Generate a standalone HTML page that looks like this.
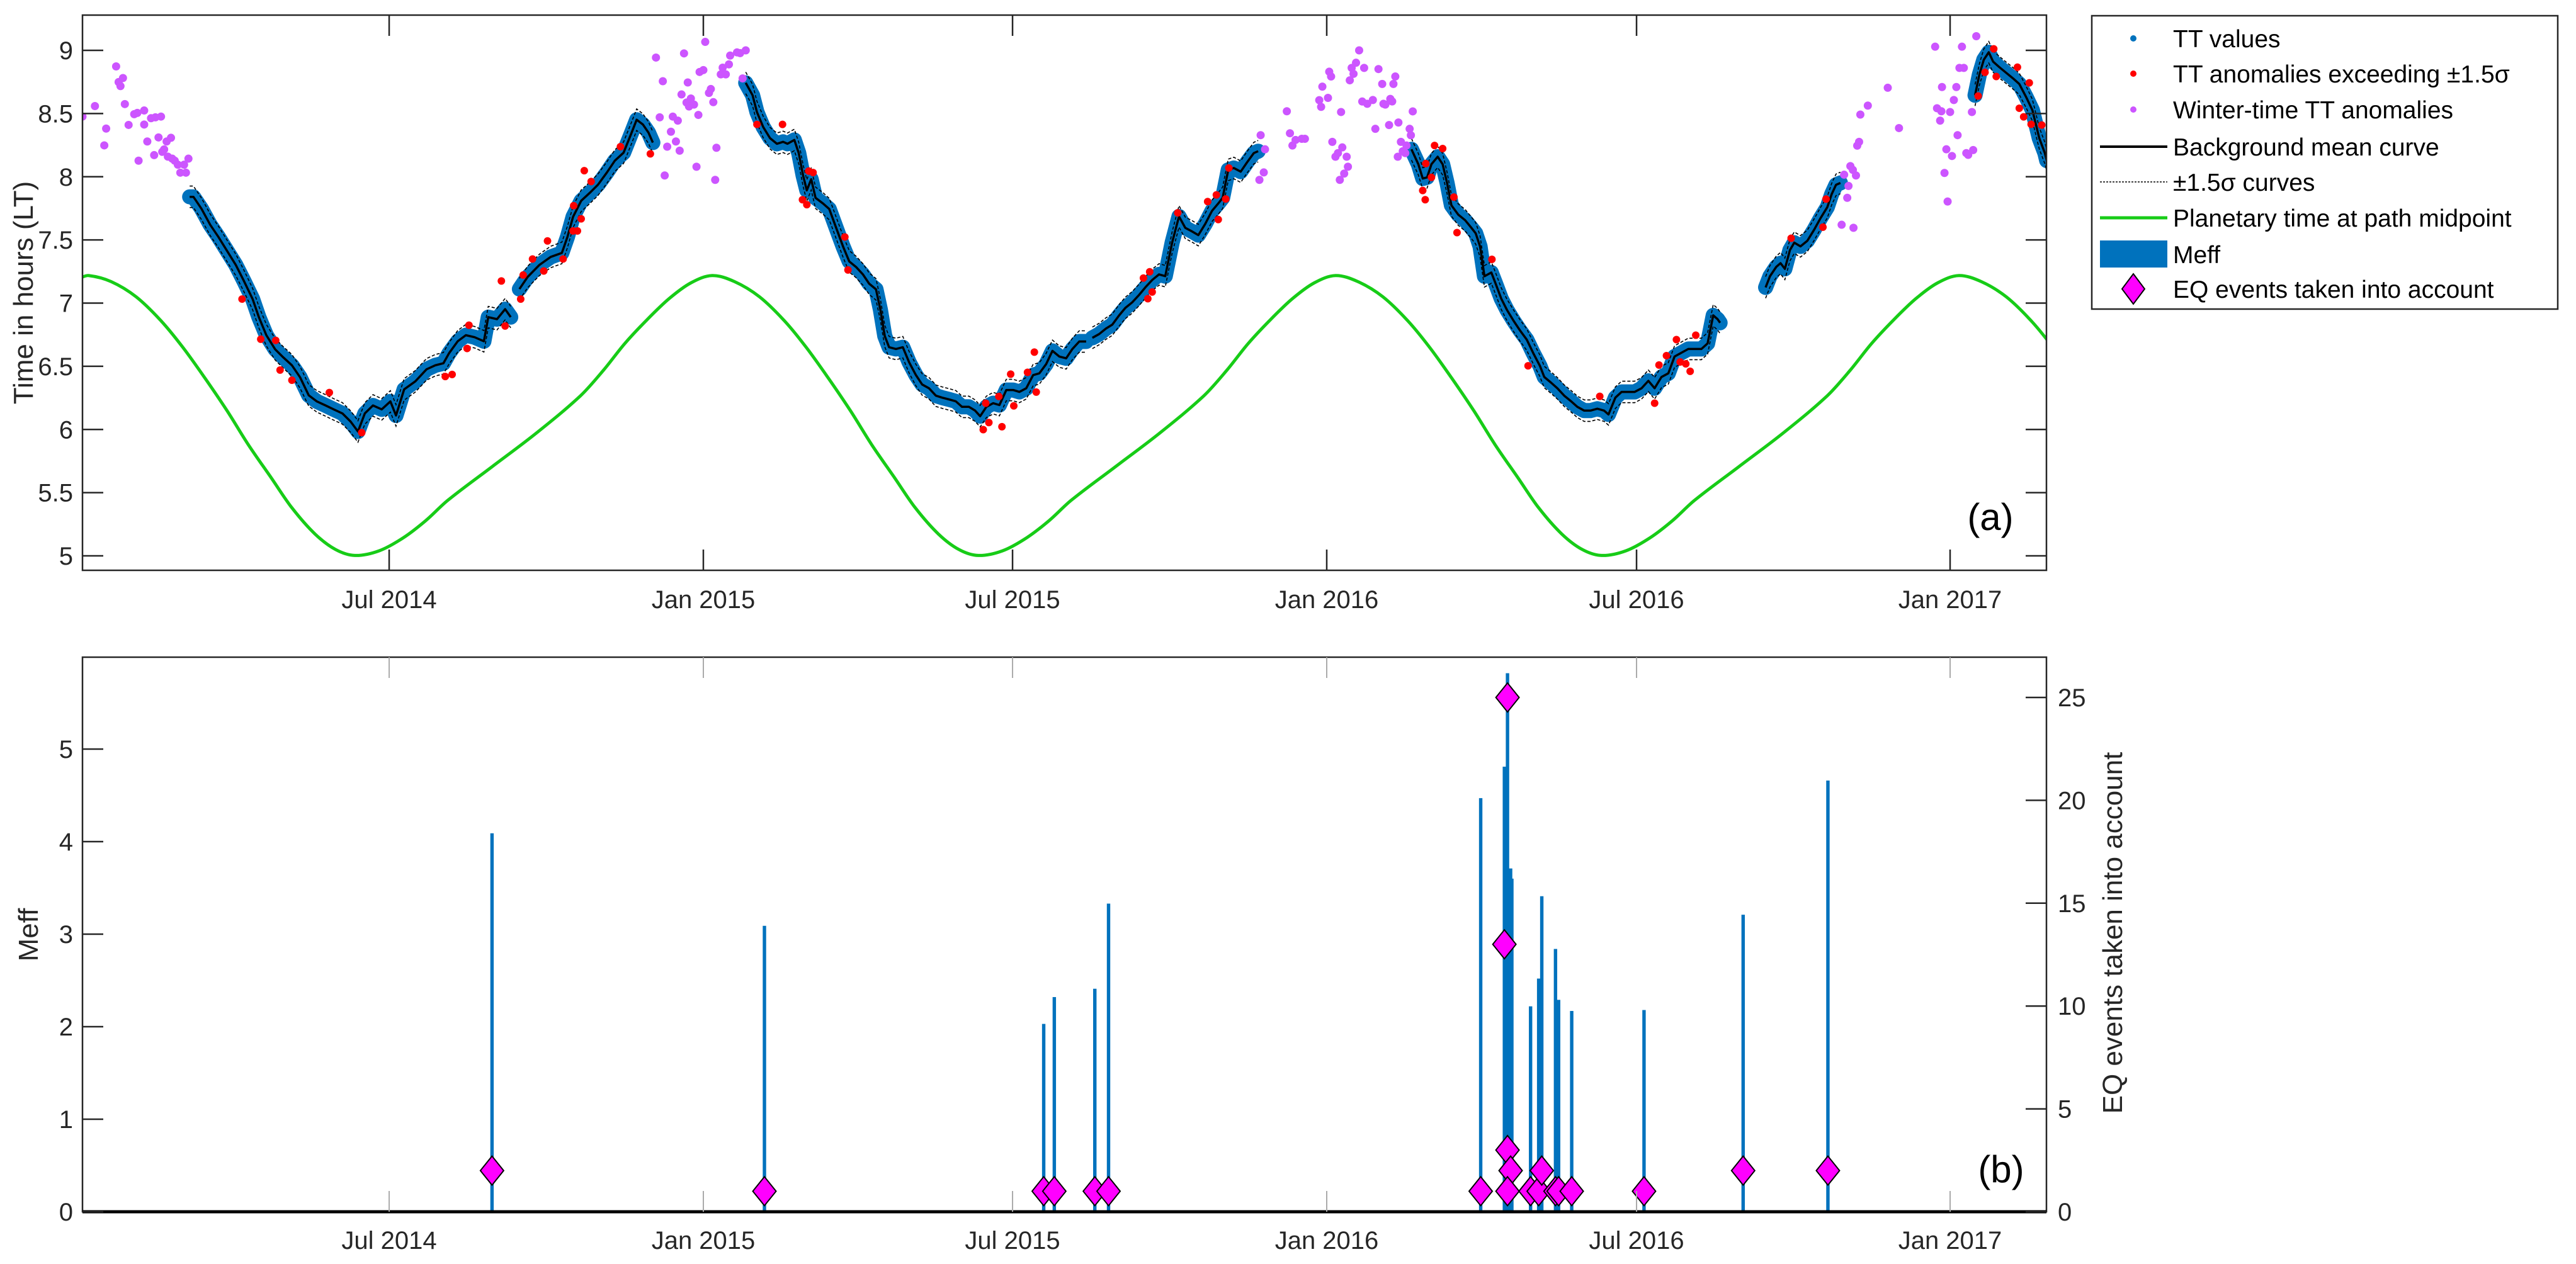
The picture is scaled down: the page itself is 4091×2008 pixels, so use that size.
<!DOCTYPE html>
<html><head><meta charset="utf-8">
<style>
html,body{margin:0;padding:0;background:#fff;}
svg{display:block;font-family:"Liberation Sans",Arial,sans-serif;}
</style></head>
<body>
<svg id="fig" xmlns="http://www.w3.org/2000/svg" width="4091" height="2008" viewBox="0 0 4091 2008">
<rect x="0" y="0" width="4091" height="2008" fill="#fff"/>
<defs>
<clipPath id="clipTop"><rect x="131" y="24" width="3119" height="882"/></clipPath>
<clipPath id="clipBot"><rect x="131" y="1044" width="3119" height="881"/></clipPath>
</defs>
<g id="topPanel"></g>
<g id="botPanel"></g>
<g id="legendG"></g>
</svg>
<script>
// ===== data: x values are decimal years =====
const xTickYears = [2014.496, 2015.0, 2015.496, 2016.0, 2016.497, 2017.0];
const xTickLabels = ["Jul 2014","Jan 2015","Jul 2015","Jan 2016","Jul 2016","Jan 2017"];
const topYTicks = [5,5.5,6,6.5,7,7.5,8,8.5,9];
const topYLabels = ["5","5.5","6","6.5","7","7.5","8","8.5","9"];
const meffTicks = [0,1,2,3,4,5];
const eqTicks = [0,5,10,15,20,25];
const sigmaBand = 0.085;

const seg1aY=[2014.176,2014.182,2014.195,2014.209,2014.222,2014.236,2014.250,2014.263,2014.277,2014.287,2014.299,2014.313,2014.326,2014.340,2014.353,2014.367,2014.380,2014.394,2014.407,2014.421,2014.434,2014.446,2014.457,2014.470,2014.484,2014.498,2014.507,2014.520,2014.538,2014.556,2014.570,2014.583,2014.592,2014.606,2014.619,2014.633,2014.648,2014.655,2014.669,2014.682,2014.691];
const seg1aV=[7.841,7.841,7.746,7.619,7.524,7.413,7.302,7.175,7.032,6.889,6.746,6.635,6.571,6.508,6.413,6.270,6.222,6.190,6.159,6.127,6.063,5.984,6.127,6.190,6.159,6.222,6.111,6.317,6.381,6.476,6.508,6.524,6.603,6.698,6.746,6.730,6.698,6.889,6.873,6.952,6.889];
const seg1bY=[2014.705,2014.718,2014.737,2014.755,2014.773,2014.782,2014.791,2014.804,2014.818,2014.831,2014.845,2014.858,2014.872,2014.885,2014.893,2014.903,2014.912,2014.919];
const seg1bV=[7.111,7.206,7.302,7.365,7.397,7.524,7.683,7.810,7.873,7.937,8.032,8.127,8.190,8.349,8.451,8.413,8.349,8.270];
const seg2aY=[2015.068,2015.079,2015.086,2015.096,2015.107,2015.118,2015.128,2015.135,2015.146,2015.153,2015.160,2015.166,2015.173,2015.180,2015.192,2015.202,2015.213,2015.224,2015.234,2015.245,2015.256,2015.266,2015.277,2015.284,2015.291,2015.298,2015.309,2015.320,2015.330,2015.341,2015.351,2015.362,2015.373,2015.383,2015.394,2015.405,2015.415,2015.426,2015.436,2015.444,2015.454,2015.465,2015.475,2015.486,2015.497,2015.507,2015.518,2015.529,2015.539,2015.550,2015.560,2015.571,2015.582,2015.592,2015.603,2015.614];
const seg2aV=[8.743,8.645,8.512,8.394,8.305,8.261,8.276,8.261,8.291,8.187,8.010,7.892,7.980,7.833,7.788,7.744,7.596,7.449,7.330,7.286,7.227,7.154,7.109,6.947,6.740,6.651,6.637,6.651,6.533,6.430,6.356,6.326,6.267,6.252,6.238,6.223,6.179,6.179,6.149,6.105,6.179,6.208,6.193,6.312,6.312,6.297,6.326,6.430,6.444,6.518,6.622,6.577,6.563,6.637,6.696,6.696];
const seg2bY=[2015.624,2015.635,2015.646,2015.656,2015.667,2015.677,2015.688,2015.699,2015.709,2015.720,2015.731,2015.741,2015.752,2015.763,2015.773,2015.784,2015.794,2015.805,2015.816,2015.826,2015.833,2015.842,2015.851,2015.862,2015.872,2015.883,2015.890];
const seg2bV=[6.725,6.755,6.799,6.829,6.903,6.962,7.006,7.065,7.124,7.183,7.227,7.213,7.479,7.686,7.596,7.567,7.538,7.626,7.730,7.788,7.833,8.054,8.069,8.040,8.113,8.187,8.202];
const seg3Y=[2016.136,2016.147,2016.154,2016.161,2016.168,2016.178,2016.186,2016.193,2016.200,2016.211,2016.222,2016.232,2016.239,2016.246,2016.253,2016.264,2016.271,2016.280,2016.289,2016.300,2016.310,2016.321,2016.331,2016.342,2016.349,2016.360,2016.370,2016.381,2016.392,2016.402,2016.413,2016.423,2016.434,2016.445,2016.452,2016.463,2016.473,2016.484,2016.494,2016.505,2016.516,2016.526,2016.537,2016.548,2016.558,2016.569,2016.580,2016.590,2016.601,2016.611,2016.620,2016.627,2016.631];
const seg3V=[8.217,8.099,7.986,7.995,8.099,8.158,8.099,7.951,7.774,7.700,7.656,7.596,7.552,7.449,7.212,7.242,7.153,7.035,6.947,6.858,6.784,6.710,6.607,6.503,6.415,6.370,6.326,6.267,6.223,6.179,6.149,6.149,6.164,6.149,6.119,6.252,6.297,6.297,6.297,6.326,6.385,6.326,6.415,6.444,6.577,6.607,6.637,6.637,6.637,6.681,6.903,6.873,6.844];
const seg4Y=[2016.704,2016.711,2016.721,2016.728,2016.735,2016.743,2016.750,2016.760,2016.771,2016.782,2016.792,2016.803,2016.810,2016.817,2016.824];
const seg4V=[7.124,7.212,7.286,7.316,7.271,7.419,7.478,7.449,7.493,7.582,7.671,7.759,7.862,7.936,7.951];
const seg5Y=[2017.040,2017.047,2017.054,2017.062,2017.069,2017.079,2017.090,2017.101,2017.111,2017.122,2017.132,2017.143,2017.152,2017.155];
const seg5V=[8.645,8.808,8.926,8.985,8.911,8.867,8.822,8.778,8.734,8.630,8.527,8.305,8.187,8.128];

const redYears=[2014.260,2014.290,2014.314,2014.321,2014.340,2014.400,2014.452,2014.586,2014.597,2014.624,2014.621,2014.676,2014.682,2014.707,2014.711,2014.726,2014.744,2014.750,2014.775,2014.791,2014.798,2014.804,2014.792,2014.809,2014.820,2014.867,2014.915,
2015.086,2015.127,2015.159,2015.166,2015.169,2015.176,2015.227,2015.232,2015.449,2015.458,2015.479,2015.453,2015.474,2015.493,2015.498,2015.520,2015.531,2015.534,2015.706,2015.713,2015.720,2015.716,2015.761,2015.809,2015.823,2015.826,2015.838,2015.843,
2016.159,2016.154,2016.158,2016.168,2016.173,2016.186,2016.204,2016.209,2016.265,2016.323,2016.438,2016.526,2016.533,2016.545,2016.561,2016.567,2016.576,2016.583,2016.592,2016.745,2016.796,2016.801,2017.045,2017.056,2017.070,2017.074,2017.108,2017.127,2017.111,2017.118,2017.130,2017.147];
const redVals=[7.032,6.714,6.705,6.470,6.390,6.292,5.975,6.419,6.435,6.825,6.641,7.175,6.819,7.032,7.222,7.349,7.254,7.492,7.349,7.571,7.571,7.667,7.771,8.048,7.962,8.238,8.181,
8.414,8.414,7.818,7.779,8.045,8.033,7.523,7.262,5.999,6.055,6.022,6.208,6.261,6.438,6.187,6.452,6.612,6.296,7.198,7.035,7.088,7.248,7.714,7.803,7.856,7.661,7.824,8.069,
8.104,7.891,7.818,7.995,8.247,8.223,7.839,7.558,7.346,6.504,6.262,6.208,6.510,6.584,6.711,6.534,6.519,6.460,6.746,7.513,7.601,7.823,8.639,8.826,9.012,8.793,8.867,8.743,8.542,8.474,8.415,8.409];

const winterYears=[2014.004,2014.024,2014.039,2014.042,2014.058,2014.062,2014.065,2014.069,2014.072,2014.078,2014.087,2014.092,2014.094,2014.103,2014.103,2014.108,2014.114,2014.119,2014.121,2014.126,2014.130,2014.132,2014.135,2014.139,2014.141,2014.146,2014.148,2014.152,2014.157,2014.161,2014.167,2014.170,2014.174,
2014.924,2014.930,2014.935,2014.938,2014.942,2014.948,2014.951,2014.956,2014.959,2014.962,2014.965,2014.969,2014.973,2014.975,2014.977,2014.980,2014.985,2014.989,2014.992,2014.994,2015.000,2015.003,2015.009,2015.012,2015.016,2015.019,2015.021,2015.028,2015.031,2015.036,2015.041,2015.043,2015.054,2015.059,2015.063,2015.068,
2015.894,2015.901,2015.899,2015.892,2015.936,2015.941,2015.945,2015.950,2015.960,2015.965,2015.988,2015.991,2015.993,2016.002,2016.004,2016.007,2016.009,2016.014,2016.018,2016.021,2016.023,2016.025,2016.028,2016.032,2016.034,2016.037,2016.040,2016.043,2016.047,2016.052,2016.057,2016.060,2016.065,2016.074,2016.078,2016.083,2016.089,2016.091,
2016.094,2016.100,2016.102,2016.105,2016.107,2016.110,2016.115,2016.119,2016.122,2016.126,2016.128,2016.114,2016.133,2016.135,2016.138,
2016.830,2016.835,2016.837,2016.840,2016.844,2016.849,2016.826,2016.845,2016.851,2016.854,2016.856,2016.868,2016.900,2016.918,2016.976,2016.979,2016.984,2016.986,2016.987,2016.991,2016.994,2016.996,2017.000,2017.003,2017.006,2017.010,2017.012,2017.015,2017.019,2017.022,2017.026,2017.029,2017.035,2017.037,2017.042];
const winterVals=[8.476,8.559,8.248,8.381,8.873,8.749,8.717,8.781,8.575,8.410,8.495,8.505,8.127,8.524,8.413,8.279,8.463,8.171,8.470,8.311,8.476,8.197,8.216,8.279,8.159,8.308,8.143,8.127,8.095,8.032,8.095,8.032,8.143,
8.943,8.470,8.756,8.010,8.238,8.356,8.476,8.279,8.444,8.206,8.651,8.976,8.587,8.746,8.556,8.619,8.571,8.079,8.489,8.829,8.844,9.067,8.663,8.694,8.590,7.975,8.229,8.810,8.863,8.810,8.889,8.959,8.984,8.978,8.778,9.000,
8.329,8.217,8.034,7.975,8.518,8.344,8.247,8.291,8.300,8.300,8.606,8.553,8.713,8.624,8.831,8.793,8.276,8.158,8.187,7.975,8.512,8.232,8.025,8.158,8.079,8.763,8.861,8.814,8.902,9.000,8.595,8.861,8.577,8.607,8.379,8.852,8.734,8.577,
8.571,8.409,8.616,8.596,8.734,8.793,8.429,8.276,8.202,8.187,8.247,8.158,8.379,8.328,8.517,
8.016,7.833,7.927,8.084,8.054,8.010,7.620,7.596,8.246,8.276,8.492,8.563,8.704,8.385,9.029,8.542,8.444,8.518,8.710,8.030,8.217,7.804,8.512,8.164,8.607,8.710,8.329,8.861,9.029,8.861,8.187,8.173,8.512,8.211,9.112];

const greenYears=[2014.000,2014.014,2014.050,2014.090,2014.130,2014.165,2014.200,2014.236,2014.270,2014.307,2014.340,2014.377,2014.410,2014.441,2014.480,2014.519,2014.555,2014.590,2014.661,2014.732,2014.803,2014.840,2014.874,2014.910,2014.945,2014.980,
2015.014,2015.050,2015.090,2015.130,2015.165,2015.200,2015.236,2015.270,2015.307,2015.340,2015.377,2015.410,2015.441,2015.480,2015.519,2015.555,2015.590,2015.661,2015.732,2015.803,2015.840,2015.874,2015.910,2015.945,2015.980,
2016.014,2016.050,2016.090,2016.130,2016.165,2016.200,2016.236,2016.270,2016.307,2016.340,2016.377,2016.410,2016.441,2016.480,2016.519,2016.555,2016.590,2016.661,2016.732,2016.803,2016.840,2016.874,2016.910,2016.945,2016.980,
2017.014,2017.050,2017.090,2017.130,2017.165,2017.200];
const greenVals=[7.20,7.218,7.17,7.05,6.86,6.65,6.41,6.148,5.88,5.616,5.38,5.173,5.05,5.003,5.04,5.144,5.28,5.439,5.705,5.971,6.267,6.47,6.68,6.87,7.035,7.16,
7.218,7.17,7.05,6.86,6.65,6.41,6.148,5.88,5.616,5.38,5.173,5.05,5.003,5.04,5.144,5.28,5.439,5.705,5.971,6.267,6.47,6.68,6.87,7.035,7.16,
7.218,7.17,7.05,6.86,6.65,6.41,6.148,5.88,5.616,5.38,5.173,5.05,5.003,5.04,5.144,5.28,5.439,5.705,5.971,6.267,6.47,6.68,6.87,7.035,7.16,
7.218,7.17,7.05,6.86,6.65,6.41];

const meffYears=[2014.661,2015.098,2015.546,2015.563,2015.628,2015.650,2016.247,2016.285,2016.290,2016.293,2016.295,2016.297,2016.327,2016.340,2016.345,2016.343,2016.367,2016.372,2016.393,2016.509,2016.668,2016.804];
const meffVals=[4.09,3.09,2.03,2.32,2.41,3.33,4.47,4.81,5.82,3.49,3.71,3.60,2.22,2.52,3.41,2.00,2.84,2.29,2.17,2.18,3.21,4.66];
const eqYears=[2014.661,2015.098,2015.546,2015.563,2015.628,2015.650,2016.247,2016.285,2016.290,2016.290,2016.295,2016.290,2016.327,2016.340,2016.345,2016.367,2016.372,2016.393,2016.509,2016.668,2016.804];
const eqCounts=[2,1,1,1,1,1,1,13,25,3,2,1,1,1,2,1,1,1,1,2,2];

// ===== scales =====
const NS="http://www.w3.org/2000/svg";
const X = t => 1117 + (t - 2015) * 990;
const YT = v => 80 + (9 - v) * 200.75;
const YB = m => 1925 - m * 147;
const YR = n => 1925 - n * 32.68;
function el(tag, attrs, parent){const e=document.createElementNS(NS,tag);for(const k in attrs)e.setAttribute(k,attrs[k]);parent.appendChild(e);return e;}
function txt(s, attrs, parent){const e=el('text',attrs,parent);e.textContent=s;return e;}
const topG=document.getElementById('topPanel'), botG=document.getElementById('botPanel'), legG=document.getElementById('legendG');
const AX='#262626';

// ===== top panel =====
const tData=el('g',{'clip-path':'url(#clipTop)'},topG);
function hermitePath(xs,ys){
  const n=xs.length, m=[];
  for(let i=0;i<n;i++){
    const a=Math.max(i-1,0), b=Math.min(i+1,n-1);
    m.push((ys[b]-ys[a])/(xs[b]-xs[a]));
  }
  let p=`M${xs[0]},${ys[0]}`;
  for(let i=0;i<n-1;i++){
    const dx=xs[i+1]-xs[i];
    p+=` C${xs[i]+dx/3},${ys[i]+m[i]*dx/3} ${xs[i+1]-dx/3},${ys[i+1]-m[i+1]*dx/3} ${xs[i+1]},${ys[i+1]}`;
  }
  return p;
}
const gp=el('path',{d:hermitePath(greenYears.map(X),greenVals.map(YT)),fill:'none',stroke:'#17CC17','stroke-width':5},tData);



const segs=[[seg1aY,seg1aV],[seg1bY,seg1bV],[seg2aY,seg2aV],[seg2bY,seg2bV],[seg3Y,seg3V],[seg4Y,seg4V],[seg5Y,seg5V]];
const pts=(ys,vs,off)=>ys.map((t,i)=>`${X(t).toFixed(1)},${YT(vs[i]+off).toFixed(1)}`).join(' ');
segs.forEach(([ys,vs])=>{
  const band=el('polyline',{points:pts(ys,vs,0),fill:'none',stroke:'#0072BD','stroke-width':24,'stroke-linejoin':'round','stroke-linecap':'round'},tData);
  
  
  ys.forEach((t,i)=>{
    const c=el('circle',{cx:X(t),cy:YT(vs[i]),r:8,fill:'#0072BD'},tData);
    
    
  });
});
segs.forEach(([ys,vs])=>{
  [sigmaBand,-sigmaBand].forEach(o=>{
    const d=el('polyline',{points:pts(ys,vs,o),fill:'none',stroke:'#000','stroke-width':1.6,'stroke-dasharray':'5,3'},tData);
    
    
  });
  const m=el('polyline',{points:pts(ys,vs,0),fill:'none',stroke:'#000','stroke-width':3.5,'stroke-linejoin':'round'},tData);
  
  
});
redYears.forEach((t,i)=>{
  const c=el('circle',{cx:X(t),cy:YT(redVals[i]),r:6,fill:'#FF0000'},tData);
  
  
});
winterYears.forEach((t,i)=>{
  const c=el('circle',{cx:X(t),cy:YT(winterVals[i]),r:6.5,fill:'#CC55FF'},tData);
  
  
});
const tf=el('rect',{x:131,y:24,width:3119,height:882,fill:'none',stroke:AX,'stroke-width':2.5},topG);


topYTicks.forEach((v,i)=>{
  el('line',{x1:131,y1:YT(v),x2:164,y2:YT(v),stroke:AX,'stroke-width':2.5},topG);
  el('line',{x1:3217,y1:YT(v),x2:3250,y2:YT(v),stroke:AX,'stroke-width':2.5},topG);
  const l=txt(topYLabels[i],{x:116,y:YT(v)+14,'text-anchor':'end','font-size':40,fill:'#262626'},topG);
  
  
});
xTickYears.forEach((t,i)=>{
  el('line',{x1:X(t),y1:24,x2:X(t),y2:57,stroke:AX,'stroke-width':2.5},topG);
  el('line',{x1:X(t),y1:873,x2:X(t),y2:906,stroke:AX,'stroke-width':2.5},topG);
  const l=txt(xTickLabels[i],{x:X(t),y:966,'text-anchor':'middle','font-size':40,fill:'#262626'},topG);
  
  
});
const yl=txt('Time in hours (LT)',{x:0,y:0,transform:'translate(52,465) rotate(-90)','text-anchor':'middle','font-size':44,fill:'#262626'},topG);


const pa=txt('(a)',{x:3161,y:842,'text-anchor':'middle','font-size':60,fill:'#000'},topG);



// ===== bottom panel =====
const bData=el('g',{'clip-path':'url(#clipBot)'},botG);
meffYears.forEach((t,i)=>{
  const r=el('rect',{x:X(t)-2.7,y:YB(meffVals[i]),width:5.4,height:YB(0)-YB(meffVals[i]),fill:'#0072BD'},bData);
  
  
});
eqYears.forEach((t,i)=>{
  const cx=X(t), cy=YR(eqCounts[i]);
  const d=el('polygon',{points:`${cx},${cy-23} ${cx+18.5},${cy} ${cx},${cy+23} ${cx-18.5},${cy}`,fill:'#FF00FF',stroke:'#000','stroke-width':2},bData);
  
  
});
const bf=el('rect',{x:131,y:1044,width:3119,height:881,fill:'none',stroke:AX,'stroke-width':2.5},botG);


const base=el('line',{x1:131,y1:1925,x2:3250,y2:1925,stroke:'#000','stroke-width':5},botG);


meffTicks.forEach(m=>{
  el('line',{x1:131,y1:YB(m),x2:164,y2:YB(m),stroke:AX,'stroke-width':2.5},botG);
  const l=txt(String(m),{x:116,y:YB(m)+14,'text-anchor':'end','font-size':40,fill:'#262626'},botG);
  
  
});
eqTicks.forEach(n=>{
  el('line',{x1:3217,y1:YR(n),x2:3250,y2:YR(n),stroke:AX,'stroke-width':2.5},botG);
  const l=txt(String(n),{x:3268,y:YR(n)+14,'text-anchor':'start','font-size':40,fill:'#262626'},botG);
  
  
});
xTickYears.forEach((t,i)=>{
  el('line',{x1:X(t),y1:1044,x2:X(t),y2:1077,stroke:'#aaa','stroke-width':2},botG);
  el('line',{x1:X(t),y1:1892,x2:X(t),y2:1925,stroke:'#aaa','stroke-width':2},botG);
  const l=txt(xTickLabels[i],{x:X(t),y:1984,'text-anchor':'middle','font-size':40,fill:'#262626'},botG);
  
  
});
const ml=txt('Meff',{x:0,y:0,transform:'translate(60,1485) rotate(-90)','text-anchor':'middle','font-size':44,fill:'#262626'},botG);


const rl=txt('EQ events taken into account',{x:0,y:0,transform:'translate(3370,1482) rotate(-90)','text-anchor':'middle','font-size':44,fill:'#262626'},botG);


const pb=txt('(b)',{x:3178,y:1878,'text-anchor':'middle','font-size':60,fill:'#000'},botG);



// ===== legend =====
const lb=el('rect',{x:3322,y:25,width:740,height:466,fill:'#fff',stroke:'#262626','stroke-width':2.5},legG);


const legendLabels=["TT values","TT anomalies exceeding \u00B11.5\u03C3","Winter-time TT anomalies","Background mean curve","\u00B11.5\u03C3 curves","Planetary time at path midpoint","Meff","EQ events taken into account"];
const rowY=[61,117,174,233,289,346,404,459];
legendLabels.forEach((s,i)=>{
  const y=rowY[i];
  const g=el('g',{},legG);
  
  
  if(i===0) el('circle',{cx:3388,cy:y,r:5,fill:'#0072BD'},g);
  if(i===1) el('circle',{cx:3388,cy:y,r:5,fill:'#FF0000'},g);
  if(i===2) el('circle',{cx:3388,cy:y,r:5,fill:'#CC55FF'},g);
  if(i===3) el('line',{x1:3335,y1:y,x2:3442,y2:y,stroke:'#000','stroke-width':4},g);
  if(i===4) el('line',{x1:3335,y1:y,x2:3442,y2:y,stroke:'#000','stroke-width':1.6,'stroke-dasharray':'3,2'},g);
  if(i===5) el('line',{x1:3335,y1:y,x2:3442,y2:y,stroke:'#17CC17','stroke-width':5},g);
  if(i===6) el('rect',{x:3335,y:y-22,width:107,height:43,fill:'#0072BD'},g);
  if(i===7) el('polygon',{points:`3388,${y-24} 3406,${y} 3388,${y+24} 3370,${y}`,fill:'#FF00FF',stroke:'#000','stroke-width':2},g);
  txt(s,{x:3451,y:y+14,'font-size':39,fill:'#000'},g);
});
</script>
</body></html>
